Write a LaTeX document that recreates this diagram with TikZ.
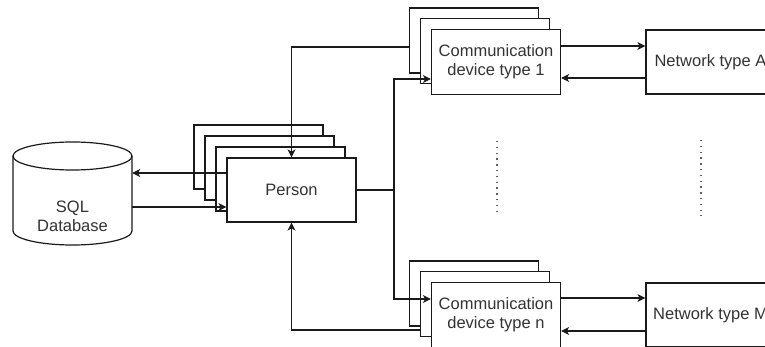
\documentclass[tikz,border=0pt]{standalone}
\usepackage{fontspec}
\setmainfont{Liberation Sans}
\usetikzlibrary{arrows.meta}
\definecolor{ln}{HTML}{1A1A1A}
\definecolor{tx}{HTML}{333333}
\begin{document}
\begin{tikzpicture}[x=1pt,y=-1pt,
  box/.style={draw=ln, fill=white, line width=1.2pt, minimum width=129pt, minimum height=65pt,
    inner sep=0pt, text=tx, font=\fontsize{16.5pt}{19pt}\selectfont, align=center},
  arr/.style={draw=ln, line width=1.2pt, -{Stealth[length=8pt,width=8pt,inset=2.2pt]}},
  plain/.style={draw=ln, line width=1.2pt},
  dots/.style={draw=ln!70, line width=1.5pt, dash pattern=on 1.5pt off 4.3pt}]
\useasboundingbox (0,0) rectangle (765,347);
\clip (0,0) rectangle (765,347);
% row helpers
\coordinate (r46) at (0,46);
\coordinate (r78) at (0,78);
\coordinate (r79) at (0,79);
\coordinate (r173) at (0,173);
\coordinate (r207) at (0,207);
\coordinate (r298) at (0,298);
\coordinate (r299) at (0,299);
\coordinate (r331) at (0,331);
% SQL database cylinder
\node[minimum width=119pt, minimum height=103pt, inner sep=0pt] (sql) at (72.5,193.5) {};
\draw[plain, fill=white] (13,156) -- (13,231) arc[start angle=180, end angle=360, x radius=59.5pt, y radius=14pt] -- (132,156);
\draw[plain] (72.5,156) ellipse[x radius=59.5pt, y radius=14pt];
\node[text=tx, font=\fontsize{16.5pt}{19pt}\selectfont, align=center] (sqltext) at (72.5,216) {SQL\\Database};
% Person stack
\node[box, minimum height=64pt] (p3) at (258.5,157) {};
\node[box, minimum height=64pt] (p2) at (269.5,168) {};
\node[box, minimum height=64pt] (p1) at (280.5,179) {};
\node[box, minimum height=64pt] (person) at (291.5,190) {Person};
% edges back into Person (behind communication stacks)
\draw[arr] (432,47) coordinate (c1out) -| (person.north);
\draw[arr] (432,330) coordinate (cnout) -| (person.south);
% Communication device stacks
\node[box] (c1b) at (474,40.5) {};
\node[box] (c1a) at (485,51) {};
\node[box] (comm1) at (496,62) {Communication\\device type 1};
\node[box] (cnb) at (474,293.5) {};
\node[box] (cna) at (485,304) {};
\node[box] (commn) at (496,315) {Communication\\device type n};
% Networks
\node[box, minimum height=64pt] (neta) at (710.5,62) {Network type A};
\node[box, minimum height=64pt] (netm) at (710.5,315) {Network type M};
% Person <-> SQL
\draw[arr] (person.west |- r173) -- (sql.east |- r173);
\draw[arr] (sql.east |- r207) -- (person.west |- r207);
% Person -> communication devices
\coordinate (j) at (394,190);
\draw[plain] (person.east) -- (j);
\draw[arr] (j) |- (comm1.west |- r79);
\draw[arr] (j) |- (commn.west |- r299);
% communication <-> network
\draw[arr] (comm1.east |- r46) -- (neta.west |- r46);
\draw[arr] (neta.west |- r78) -- (comm1.east |- r78);
\draw[arr] (commn.east |- r298) -- (netm.west |- r298);
\draw[arr] (netm.west |- r331) -- (commn.east |- r331);
% ellipsis dots
\draw[dots] (497,141) -- (497,216);
\draw[dots] (701,140) -- (701,216);
\end{tikzpicture}
\end{document}
